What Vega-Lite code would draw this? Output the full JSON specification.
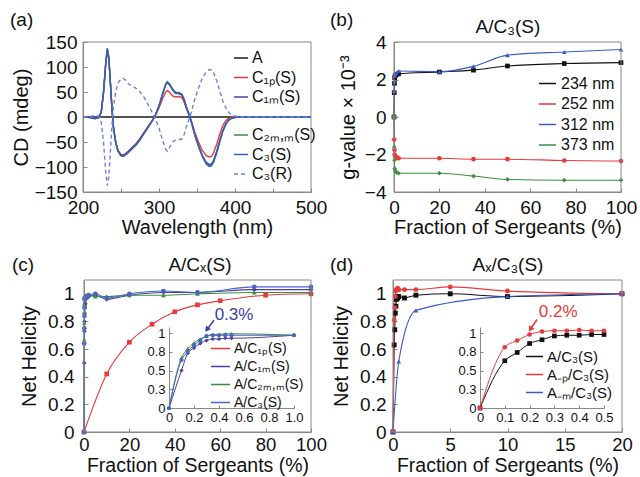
{
"$schema":"https://vega.github.io/schema/vega-lite/v6.json",
"width":640,"height":477,"autosize":{"type":"none"},"padding":0,"background":"white",
"config":{
 "font":"Liberation Sans",
 "view":{"stroke":null},
 "axis":{"grid":false,"domainColor":"#888","tickColor":"#888","labelColor":"#111","titleColor":"#111","labelFont":"Liberation Sans","titleFont":"Liberation Sans","labelFontSize":19,"titleFontSize":20,"titleFontWeight":"normal","tickSize":-4,"labelPadding":10,"labelFlush":false,"labelOverlap":false},
 "legend":{"orient":"none","symbolType":"stroke","symbolStrokeWidth":1.5,"labelFont":"Liberation Sans","padding":0,"labelOffset":3,"labelColor":"#111"},
 "text":{"font":"Liberation Sans","color":"#111"}
},
"datasets":{
"cd":[
{"wl":200,"A":0,"p":0,"m":0,"mm":0,"S":0,"R":0},
{"wl":210,"A":0,"p":-1,"m":-1,"mm":-1,"S":-1,"R":1},
{"wl":215,"A":0,"p":-3,"m":-3,"mm":-3,"S":-3,"R":3},
{"wl":220,"A":0,"p":-2,"m":-2,"mm":-2,"S":-2,"R":2},
{"wl":224,"A":0,"p":9,"m":10,"mm":10,"S":10,"R":-10},
{"wl":227,"A":0,"p":48,"m":49,"mm":50,"S":50,"R":-50},
{"wl":230,"A":0,"p":106,"m":108,"mm":110,"S":110,"R":-110},
{"wl":232,"A":0,"p":132,"m":135,"mm":136,"S":138,"R":-137},
{"wl":234,"A":0,"p":116,"m":118,"mm":119,"S":120,"R":-120},
{"wl":236,"A":0,"p":68,"m":69,"mm":70,"S":70,"R":-70},
{"wl":238,"A":0,"p":18,"m":19,"mm":20,"S":20,"R":-20},
{"wl":240,"A":0,"p":-20,"m":-20,"mm":-20,"S":-20,"R":20},
{"wl":243,"A":0,"p":-50,"m":-50,"mm":-51,"S":-50,"R":50},
{"wl":246,"A":0,"p":-67,"m":-68,"mm":-69,"S":-68,"R":68},
{"wl":250,"A":0,"p":-75,"m":-76,"mm":-78,"S":-77,"R":76},
{"wl":253,"A":0,"p":-76,"m":-77,"mm":-79,"S":-78,"R":77},
{"wl":256,"A":0,"p":-73,"m":-74,"mm":-76,"S":-75,"R":74},
{"wl":260,"A":0,"p":-68,"m":-69,"mm":-71,"S":-70,"R":66},
{"wl":265,"A":0,"p":-60,"m":-61,"mm":-63,"S":-62,"R":62},
{"wl":270,"A":0,"p":-53,"m":-54,"mm":-56,"S":-55,"R":57},
{"wl":275,"A":0,"p":-43,"m":-44,"mm":-46,"S":-45,"R":50},
{"wl":280,"A":0,"p":-32,"m":-32,"mm":-34,"S":-33,"R":40},
{"wl":285,"A":0,"p":-21,"m":-21,"mm":-22,"S":-22,"R":27},
{"wl":290,"A":0,"p":-10,"m":-10,"mm":-10,"S":-10,"R":12},
{"wl":295,"A":0,"p":2,"m":3,"mm":3,"S":3,"R":-3},
{"wl":300,"A":0,"p":18,"m":22,"mm":22,"S":22,"R":-22},
{"wl":305,"A":0,"p":38,"m":47,"mm":48,"S":48,"R":-48},
{"wl":309,"A":0,"p":50,"m":65,"mm":67,"S":66,"R":-65},
{"wl":311,"A":0,"p":53,"m":69,"mm":71,"S":70,"R":-68},
{"wl":314,"A":0,"p":49,"m":64,"mm":66,"S":65,"R":-60},
{"wl":318,"A":0,"p":42,"m":54,"mm":56,"S":55,"R":-50},
{"wl":322,"A":0,"p":40,"m":47,"mm":49,"S":48,"R":-46},
{"wl":326,"A":0,"p":41,"m":47,"mm":49,"S":48,"R":-45},
{"wl":330,"A":0,"p":39,"m":44,"mm":46,"S":45,"R":-44},
{"wl":333,"A":0,"p":30,"m":34,"mm":36,"S":35,"R":-35},
{"wl":336,"A":0,"p":17,"m":19,"mm":21,"S":20,"R":-20},
{"wl":340,"A":0,"p":2,"m":3,"mm":3,"S":3,"R":-3},
{"wl":343,"A":0,"p":-10,"m":-12,"mm":-12,"S":-12,"R":12},
{"wl":347,"A":0,"p":-30,"m":-34,"mm":-36,"S":-35,"R":35},
{"wl":352,"A":0,"p":-50,"m":-57,"mm":-59,"S":-58,"R":58},
{"wl":357,"A":0,"p":-67,"m":-77,"mm":-79,"S":-78,"R":78},
{"wl":362,"A":0,"p":-77,"m":-90,"mm":-94,"S":-92,"R":90},
{"wl":366,"A":0,"p":-80,"m":-95,"mm":-99,"S":-97,"R":95},
{"wl":369,"A":0,"p":-79,"m":-94,"mm":-98,"S":-96,"R":94},
{"wl":372,"A":0,"p":-71,"m":-86,"mm":-90,"S":-88,"R":88},
{"wl":376,"A":0,"p":-54,"m":-68,"mm":-72,"S":-70,"R":72},
{"wl":380,"A":0,"p":-34,"m":-47,"mm":-50,"S":-48,"R":52},
{"wl":384,"A":0,"p":-17,"m":-27,"mm":-29,"S":-28,"R":32},
{"wl":388,"A":0,"p":-7,"m":-13,"mm":-15,"S":-14,"R":18},
{"wl":392,"A":0,"p":-2,"m":-5,"mm":-6,"S":-6,"R":9},
{"wl":396,"A":0,"p":0,"m":-2,"mm":-2,"S":-2,"R":4},
{"wl":400,"A":0,"p":0,"m":-1,"mm":-1,"S":-1,"R":2},
{"wl":405,"A":0,"p":0,"m":0,"mm":0,"S":0,"R":0},
{"wl":410,"A":0,"p":0,"m":0,"mm":0,"S":0,"R":0},
{"wl":500,"A":0,"p":0,"m":0,"mm":0,"S":0,"R":0}
],
"gv":[
{"f":0,"g":0,"s":"234 nm"},{"f":0.1,"g":1.3,"s":"234 nm"},{"f":0.2,"g":1.8,"s":"234 nm"},{"f":0.3,"g":2.1,"s":"234 nm"},{"f":0.5,"g":2.2,"s":"234 nm"},{"f":1,"g":2.25,"s":"234 nm"},{"f":2,"g":2.3,"s":"234 nm"},{"f":20,"g":2.4,"s":"234 nm"},{"f":35,"g":2.5,"s":"234 nm"},{"f":50,"g":2.72,"s":"234 nm"},{"f":75,"g":2.85,"s":"234 nm"},{"f":100,"g":2.9,"s":"234 nm"},
{"f":0,"g":0,"s":"252 nm"},{"f":0.1,"g":-1.2,"s":"252 nm"},{"f":0.2,"g":-1.75,"s":"252 nm"},{"f":0.3,"g":-2.0,"s":"252 nm"},{"f":0.5,"g":-2.1,"s":"252 nm"},{"f":1,"g":-2.15,"s":"252 nm"},{"f":2,"g":-2.2,"s":"252 nm"},{"f":20,"g":-2.2,"s":"252 nm"},{"f":35,"g":-2.25,"s":"252 nm"},{"f":50,"g":-2.25,"s":"252 nm"},{"f":75,"g":-2.32,"s":"252 nm"},{"f":100,"g":-2.35,"s":"252 nm"},
{"f":0,"g":0,"s":"312 nm"},{"f":0.1,"g":1.4,"s":"312 nm"},{"f":0.2,"g":1.9,"s":"312 nm"},{"f":0.3,"g":2.2,"s":"312 nm"},{"f":0.5,"g":2.3,"s":"312 nm"},{"f":1,"g":2.35,"s":"312 nm"},{"f":2,"g":2.45,"s":"312 nm"},{"f":20,"g":2.42,"s":"312 nm"},{"f":35,"g":2.7,"s":"312 nm"},{"f":50,"g":3.3,"s":"312 nm"},{"f":75,"g":3.47,"s":"312 nm"},{"f":100,"g":3.6,"s":"312 nm"},
{"f":0,"g":0,"s":"373 nm"},{"f":0.1,"g":-1.6,"s":"373 nm"},{"f":0.2,"g":-2.3,"s":"373 nm"},{"f":0.3,"g":-2.75,"s":"373 nm"},{"f":0.5,"g":-2.85,"s":"373 nm"},{"f":1,"g":-2.95,"s":"373 nm"},{"f":2,"g":-3.0,"s":"373 nm"},{"f":20,"g":-3.0,"s":"373 nm"},{"f":35,"g":-3.15,"s":"373 nm"},{"f":50,"g":-3.33,"s":"373 nm"},{"f":75,"g":-3.37,"s":"373 nm"},{"f":100,"g":-3.37,"s":"373 nm"}
],
"nh":[
{"f":0,"h":0,"s":"p"},{"f":10,"h":0.42,"s":"p"},{"f":20,"h":0.65,"s":"p"},{"f":30,"h":0.78,"s":"p"},{"f":40,"h":0.87,"s":"p"},{"f":50,"h":0.92,"s":"p"},{"f":60,"h":0.95,"s":"p"},{"f":80,"h":0.99,"s":"p"},{"f":100,"h":1.0,"s":"p"},
{"f":0,"h":0,"s":"m"},{"f":0.1,"h":0.5,"s":"m"},{"f":0.15,"h":0.73,"s":"m"},{"f":0.2,"h":0.8,"s":"m"},{"f":0.25,"h":0.86,"s":"m"},{"f":0.3,"h":0.9,"s":"m"},{"f":0.35,"h":0.92,"s":"m"},{"f":0.4,"h":0.92,"s":"m"},{"f":0.45,"h":0.93,"s":"m"},{"f":0.5,"h":0.93,"s":"m"},{"f":1,"h":0.97,"s":"m"},{"f":2,"h":0.98,"s":"m"},{"f":5,"h":0.99,"s":"m"},{"f":10,"h":0.96,"s":"m"},{"f":20,"h":0.99,"s":"m"},{"f":35,"h":1.01,"s":"m"},{"f":50,"h":1.01,"s":"m"},{"f":75,"h":1.03,"s":"m"},{"f":100,"h":1.03,"s":"m"},
{"f":0,"h":0,"s":"mm"},{"f":0.1,"h":0.67,"s":"mm"},{"f":0.15,"h":0.79,"s":"mm"},{"f":0.2,"h":0.87,"s":"mm"},{"f":0.25,"h":0.92,"s":"mm"},{"f":0.3,"h":0.96,"s":"mm"},{"f":0.35,"h":0.98,"s":"mm"},{"f":0.4,"h":0.98,"s":"mm"},{"f":0.45,"h":0.99,"s":"mm"},{"f":0.5,"h":0.99,"s":"mm"},{"f":1,"h":0.97,"s":"mm"},{"f":2,"h":0.99,"s":"mm"},{"f":5,"h":0.98,"s":"mm"},{"f":10,"h":0.98,"s":"mm"},{"f":20,"h":0.99,"s":"mm"},{"f":35,"h":0.99,"s":"mm"},{"f":50,"h":1.0,"s":"mm"},{"f":75,"h":1.01,"s":"mm"},{"f":100,"h":1.01,"s":"mm"},
{"f":0,"h":0,"s":"S"},{"f":0.1,"h":0.64,"s":"S"},{"f":0.15,"h":0.75,"s":"S"},{"f":0.2,"h":0.84,"s":"S"},{"f":0.25,"h":0.9,"s":"S"},{"f":0.3,"h":0.96,"s":"S"},{"f":0.35,"h":0.97,"s":"S"},{"f":0.4,"h":0.97,"s":"S"},{"f":0.45,"h":0.97,"s":"S"},{"f":0.5,"h":0.97,"s":"S"},{"f":1,"h":0.97,"s":"S"},{"f":2,"h":0.99,"s":"S"},{"f":5,"h":1.0,"s":"S"},{"f":10,"h":0.97,"s":"S"},{"f":20,"h":1.0,"s":"S"},{"f":35,"h":1.02,"s":"S"},{"f":50,"h":1.01,"s":"S"},{"f":75,"h":1.05,"s":"S"},{"f":100,"h":1.05,"s":"S"}
],
"nd":[
{"f":0,"h":0,"s":"A"},{"f":0.1,"h":0.63,"s":"A"},{"f":0.15,"h":0.74,"s":"A"},{"f":0.2,"h":0.86,"s":"A"},{"f":0.25,"h":0.91,"s":"A"},{"f":0.3,"h":0.96,"s":"A"},{"f":0.35,"h":0.97,"s":"A"},{"f":0.4,"h":0.97,"s":"A"},{"f":0.45,"h":0.98,"s":"A"},{"f":0.5,"h":0.98,"s":"A"},{"f":1,"h":0.97,"s":"A"},{"f":2,"h":0.99,"s":"A"},{"f":5,"h":1.0,"s":"A"},{"f":10,"h":0.98,"s":"A"},{"f":20,"h":1.0,"s":"A"},
{"f":0,"h":0,"s":"p"},{"f":0.1,"h":0.81,"s":"p"},{"f":0.15,"h":0.9,"s":"p"},{"f":0.2,"h":0.98,"s":"p"},{"f":0.25,"h":1.02,"s":"p"},{"f":0.3,"h":1.03,"s":"p"},{"f":0.35,"h":1.03,"s":"p"},{"f":0.4,"h":1.04,"s":"p"},{"f":0.45,"h":1.03,"s":"p"},{"f":0.5,"h":1.03,"s":"p"},{"f":1,"h":1.03,"s":"p"},{"f":2,"h":1.03,"s":"p"},{"f":5,"h":1.05,"s":"p"},{"f":10,"h":1.02,"s":"p"},{"f":20,"h":1.0,"s":"p"},
{"f":0,"h":0,"s":"m"},{"f":0.5,"h":0.51,"s":"m"},{"f":2,"h":0.88,"s":"m"},{"f":10,"h":0.98,"s":"m"},{"f":20,"h":1.0,"s":"m"}
]
},
"layer":[
{"layer":[
 {"data":{"name":"cd"},"transform":[{"fold":["A","p","m"],"as":["s","v"]}],
  "mark":{"type":"line","strokeWidth":1.4},
  "encoding":{
   "x":{"field":"wl","type":"quantitative","scale":{"domain":[200,500],"range":[83,311],"nice":false,"zero":false},"axis":{"orient":"bottom","offset":-285,"values":[200,250,300,350,400,450,500],"labelExpr":"datum.value % 100 === 0 ? datum.label : ''","title":"Wavelength (nm)","titlePadding":0}},
   "y":{"field":"v","type":"quantitative","scale":{"domain":[-150,150],"range":[192,42],"nice":false,"zero":false},"axis":{"orient":"left","offset":-83,"values":[-150,-100,-50,0,50,100,150],"title":"CD (mdeg)","titlePadding":3,"labelPadding":10}},
   "color":{"field":"s","type":"nominal","scale":{"domain":["A","p","m"],"range":["#1a1a1a","#e8393b","#4b3d9e"]},"legend":{"title":null,"legendX":233,"legendY":50,"labelFontSize":16,"symbolSize":196,"rowPadding":3.5,"labelExpr":"datum.label == 'p' ? 'C₁ₚ(S)' : datum.label == 'm' ? 'C₁ₘ(S)' : 'A'"}}
  }},
 {"data":{"name":"cd"},"transform":[{"fold":["mm","S","R"],"as":["s","v"]}],
  "mark":{"type":"line","strokeWidth":1.4},
  "encoding":{
   "x":{"field":"wl","type":"quantitative"},
   "y":{"field":"v","type":"quantitative"},
   "color":{"field":"s","type":"nominal","scale":{"domain":["mm","S","R"],"range":["#3a8f3e","#3a5bc7","#6d82d6"]},"legend":{"title":null,"legendX":233,"legendY":127,"labelFontSize":16,"symbolSize":196,"rowPadding":3.5,"labelExpr":"datum.label == 'mm' ? 'C₂ₘ,ₘ(S)' : datum.label == 'S' ? 'C₃(S)' : 'C₃(R)'"}},
   "strokeDash":{"field":"s","type":"nominal","scale":{"domain":["mm","S","R"],"range":[[1,0],[1,0],[4,3]]},"legend":{"title":null,"legendX":233,"legendY":127,"labelFontSize":16,"symbolSize":196,"rowPadding":3.5,"labelExpr":"datum.label == 'mm' ? 'C₂ₘ,ₘ(S)' : datum.label == 'S' ? 'C₃(S)' : 'C₃(R)'"}}
  }},
 {"data":{"values":[{}]},"mark":{"type":"rect","filled":false,"color":"#888","strokeWidth":1},
  "encoding":{"x":{"datum":200,"type":"quantitative"},"x2":{"datum":500},"y":{"datum":-150,"type":"quantitative"},"y2":{"datum":150}}},
 {"data":{"values":[{}]},"mark":{"type":"text","text":"(a)","align":"left","baseline":"middle","fontSize":19},
  "encoding":{"x":{"datum":104,"type":"quantitative"},"y":{"datum":194,"type":"quantitative"}}}
 ],
 "resolve":{"scale":{"color":"independent","strokeDash":"independent"},"legend":{"color":"independent","strokeDash":"independent"}}
},
{"layer":[
 {"data":{"name":"gv"},
  "mark":{"type":"line","strokeWidth":1.1,"interpolate":"monotone"},
  "encoding":{
   "x":{"field":"f","type":"quantitative","scale":{"domain":[0,100],"range":[394,621],"nice":false,"zero":false},"axis":{"orient":"bottom","offset":-285,"values":[0,20,40,60,80,100],"title":"Fraction of Sergeants (%)","titlePadding":0}},
   "y":{"field":"g","type":"quantitative","scale":{"domain":[-4,4],"range":[192,42],"nice":false,"zero":false},"axis":{"orient":"left","offset":-394,"values":[-4,-2,0,2,4],"format":"~g","title":"g-value × 10⁻³","titlePadding":6,"labelPadding":12}},
   "color":{"field":"s","type":"nominal","scale":{"domain":["234 nm","252 nm","312 nm","373 nm"],"range":["#111111","#e8393b","#3a5bc7","#3a8f3e"]},"legend":{"title":null,"legendX":538,"legendY":74,"labelFontSize":16,"symbolSize":289,"rowPadding":2.5,"labelOffset":4}}
  }},
 {"data":{"name":"gv"},"transform":[{"filter":"datum.s == '234 nm'"}],"mark":{"type":"point","shape":"square","filled":true,"size":22,"color":"#111111","opacity":1},
  "encoding":{"x":{"field":"f","type":"quantitative"},"y":{"field":"g","type":"quantitative"}}},
 {"data":{"name":"gv"},"transform":[{"filter":"datum.s == '252 nm'"}],"mark":{"type":"point","shape":"circle","filled":true,"size":22,"color":"#e8393b","opacity":1},
  "encoding":{"x":{"field":"f","type":"quantitative"},"y":{"field":"g","type":"quantitative"}}},
 {"data":{"name":"gv"},"transform":[{"filter":"datum.s == '312 nm'"}],"mark":{"type":"point","shape":"triangle-up","filled":true,"size":22,"color":"#3a5bc7","opacity":1},
  "encoding":{"x":{"field":"f","type":"quantitative"},"y":{"field":"g","type":"quantitative"}}},
 {"data":{"name":"gv"},"transform":[{"filter":"datum.s == '373 nm'"}],"mark":{"type":"point","shape":"diamond","filled":true,"size":22,"color":"#3a8f3e","opacity":1},
  "encoding":{"x":{"field":"f","type":"quantitative"},"y":{"field":"g","type":"quantitative"}}},
 {"data":{"values":[{}]},"mark":{"type":"rect","filled":false,"color":"#888","strokeWidth":1},
  "encoding":{"x":{"datum":0,"type":"quantitative"},"x2":{"datum":100},"y":{"datum":-4,"type":"quantitative"},"y2":{"datum":4}}},
 {"data":{"values":[{}]},"mark":{"type":"text","text":"(b)","align":"left","baseline":"middle","fontSize":19},
  "encoding":{"x":{"datum":-28.2,"type":"quantitative"},"y":{"datum":5.17,"type":"quantitative"}}},
 {"data":{"values":[{}]},"mark":{"type":"text","text":"A/C₃(S)","align":"center","baseline":"middle","fontSize":19},
  "encoding":{"x":{"datum":50.2,"type":"quantitative"},"y":{"datum":4.8,"type":"quantitative"}}}
]},
{"layer":[
 {"data":{"name":"nh"},
  "mark":{"type":"line","strokeWidth":1.1,"interpolate":"monotone"},
  "encoding":{
   "x":{"field":"f","type":"quantitative","scale":{"domain":[0,100],"range":[84,311],"nice":false,"zero":false},"axis":{"orient":"bottom","offset":-45,"values":[0,20,40,60,80,100],"title":"Fraction of Sergeants (%)","titlePadding":2,"titleFontSize":19.5,"labelFontSize":18.5,"labelPadding":7.5}},
   "y":{"field":"h","type":"quantitative","scale":{"domain":[0,1.1],"range":[432,280],"nice":false,"zero":false},"axis":{"orient":"left","offset":-84,"values":[0,0.2,0.4,0.6,0.8,1],"format":"~g","title":"Net Helicity","titlePadding":8,"labelPadding":14}},
   "color":{"field":"s","type":"nominal","scale":{"domain":["p","m","mm","S"],"range":["#e8393b","#4b3d9e","#3a8f3e","#4a63c4"]},"legend":null}
  }},
 {"data":{"name":"nh"},"transform":[{"filter":"datum.s == 'p'"}],"mark":{"type":"point","shape":"square","filled":true,"size":22,"color":"#e8393b","opacity":1},
  "encoding":{"x":{"field":"f","type":"quantitative"},"y":{"field":"h","type":"quantitative"}}},
 {"data":{"name":"nh"},"transform":[{"filter":"datum.s == 'm'"}],"mark":{"type":"point","shape":"diamond","filled":true,"size":22,"color":"#4b3d9e","opacity":1},
  "encoding":{"x":{"field":"f","type":"quantitative"},"y":{"field":"h","type":"quantitative"}}},
 {"data":{"name":"nh"},"transform":[{"filter":"datum.s == 'mm'"}],"mark":{"type":"point","shape":"triangle-up","filled":true,"size":22,"color":"#3a8f3e","opacity":1},
  "encoding":{"x":{"field":"f","type":"quantitative"},"y":{"field":"h","type":"quantitative"}}},
 {"data":{"name":"nh"},"transform":[{"filter":"datum.s == 'S'"}],"mark":{"type":"point","shape":"circle","filled":true,"size":22,"color":"#4a63c4","opacity":1},
  "encoding":{"x":{"field":"f","type":"quantitative"},"y":{"field":"h","type":"quantitative"}}},
 {"data":{"values":[{}]},"mark":{"type":"rect","filled":false,"color":"#888","strokeWidth":1},
  "encoding":{"x":{"datum":0,"type":"quantitative"},"x2":{"datum":100},"y":{"datum":0,"type":"quantitative"},"y2":{"datum":1.1}}},
 {"data":{"values":[{}]},"mark":{"type":"text","text":"(c)","align":"left","baseline":"middle","fontSize":19},
  "encoding":{"x":{"datum":-31.7,"type":"quantitative"},"y":{"datum":1.208,"type":"quantitative"}}},
 {"data":{"values":[{}]},"mark":{"type":"text","text":"A/Cₓ(S)","align":"center","baseline":"middle","fontSize":19},
  "encoding":{"x":{"datum":51.1,"type":"quantitative"},"y":{"datum":1.208,"type":"quantitative"}}}
]},
{"layer":[
 {"data":{"name":"nh"},"transform":[{"filter":"datum.f <= 1 && datum.s != 'p'"}],
  "mark":{"type":"line","strokeWidth":1,"interpolate":"monotone"},
  "encoding":{
   "x":{"field":"f","type":"quantitative","scale":{"domain":[0,1],"range":[169,294],"nice":false,"zero":false},"axis":{"orient":"bottom","offset":-69,"values":[0,0.2,0.4,0.6,0.8,1],"labelExpr":"datum.value == 0 ? '0' : format(datum.value, '.1f')","title":null,"labelFontSize":13,"tickSize":-3,"labelPadding":6}},
   "y":{"field":"h","type":"quantitative","scale":{"domain":[0,1.08],"range":[408,327],"nice":false,"zero":false},"axis":{"orient":"left","offset":-169,"values":[0,0.25,0.5,0.75,1],"format":"~g","title":null,"labelFontSize":13,"tickSize":-3,"labelPadding":7}},
   "color":{"field":"s","type":"nominal","scale":{"domain":["p","m","mm","S"],"range":["#e8393b","#4b3d9e","#3a8f3e","#4a63c4"]},"legend":{"title":null,"legendX":210,"legendY":338,"labelFontSize":14,"symbolSize":361,"rowPadding":-3.4,"labelExpr":"datum.label == 'p' ? 'A/C₁ₚ(S)' : datum.label == 'm' ? 'A/C₁ₘ(S)' : datum.label == 'mm' ? 'A/C₂ₘ,ₘ(S)' : 'A/C₃(S)'"}}
  }},
 {"data":{"name":"nh"},"transform":[{"filter":"datum.f <= 1 && datum.s == 'm'"}],"mark":{"type":"point","shape":"diamond","filled":true,"size":18,"color":"#4b3d9e","opacity":1},
  "encoding":{"x":{"field":"f","type":"quantitative"},"y":{"field":"h","type":"quantitative"}}},
 {"data":{"name":"nh"},"transform":[{"filter":"datum.f <= 1 && datum.s == 'mm'"}],"mark":{"type":"point","shape":"triangle-up","filled":true,"size":18,"color":"#3a8f3e","opacity":1},
  "encoding":{"x":{"field":"f","type":"quantitative"},"y":{"field":"h","type":"quantitative"}}},
 {"data":{"name":"nh"},"transform":[{"filter":"datum.f <= 1 && datum.s == 'S'"}],"mark":{"type":"point","shape":"circle","filled":true,"size":18,"color":"#4a63c4","opacity":1},
  "encoding":{"x":{"field":"f","type":"quantitative"},"y":{"field":"h","type":"quantitative"}}},
 {"data":{"values":[{}]},"mark":{"type":"text","text":"0.3%","align":"center","baseline":"middle","fontSize":17,"color":"#3a3fa0"},
  "encoding":{"x":{"datum":0.52,"type":"quantitative"},"y":{"datum":1.24,"type":"quantitative"}}},
 {"data":{"values":[{}]},"mark":{"type":"rule","color":"#3a3fa0","strokeWidth":1.5},
  "encoding":{"x":{"datum":0.36,"type":"quantitative"},"y":{"datum":1.17,"type":"quantitative"},"x2":{"datum":0.31},"y2":{"datum":1.06}}},
 {"data":{"values":[{}]},"mark":{"type":"point","shape":"triangle-down","filled":true,"size":40,"angle":37,"color":"#3a3fa0","opacity":1},
  "encoding":{"x":{"datum":0.303,"type":"quantitative"},"y":{"datum":1.045,"type":"quantitative"}}}
]},
{"layer":[
 {"data":{"name":"nd"},
  "mark":{"type":"line","strokeWidth":1.1,"interpolate":"monotone"},
  "encoding":{
   "x":{"field":"f","type":"quantitative","scale":{"domain":[0,20],"range":[393,622],"nice":false,"zero":false},"axis":{"orient":"bottom","offset":-45,"values":[0,5,10,15,20],"title":"Fraction of Sergeants (%)","titlePadding":2,"titleFontSize":19.5,"labelFontSize":18.5,"labelPadding":7.5}},
   "y":{"field":"h","type":"quantitative","scale":{"domain":[0,1.1],"range":[432,280],"nice":false,"zero":false},"axis":{"orient":"left","offset":-393,"values":[0,0.2,0.4,0.6,0.8,1],"format":"~g","title":"Net Helicity","titlePadding":8,"labelPadding":11}},
   "color":{"field":"s","type":"nominal","scale":{"domain":["A","p","m"],"range":["#111111","#e8393b","#3a5bc7"]},"legend":null}
  }},
 {"data":{"name":"nd"},"transform":[{"filter":"datum.s == 'A'"}],"mark":{"type":"point","shape":"square","filled":true,"size":24,"color":"#111111","opacity":1},
  "encoding":{"x":{"field":"f","type":"quantitative"},"y":{"field":"h","type":"quantitative"}}},
 {"data":{"name":"nd"},"transform":[{"filter":"datum.s == 'p'"}],"mark":{"type":"point","shape":"circle","filled":true,"size":24,"color":"#e8393b","opacity":1},
  "encoding":{"x":{"field":"f","type":"quantitative"},"y":{"field":"h","type":"quantitative"}}},
 {"data":{"name":"nd"},"transform":[{"filter":"datum.s == 'm'"}],"mark":{"type":"point","shape":"triangle-up","filled":true,"size":22,"color":"#3a5bc7","opacity":1},
  "encoding":{"x":{"field":"f","type":"quantitative"},"y":{"field":"h","type":"quantitative"}}},
 {"data":{"values":[{}]},"mark":{"type":"rect","filled":false,"color":"#888","strokeWidth":1},
  "encoding":{"x":{"datum":0,"type":"quantitative"},"x2":{"datum":20},"y":{"datum":0,"type":"quantitative"},"y2":{"datum":1.1}}},
 {"data":{"values":[{}]},"mark":{"type":"text","text":"(d)","align":"left","baseline":"middle","fontSize":19},
  "encoding":{"x":{"datum":-5.5,"type":"quantitative"},"y":{"datum":1.208,"type":"quantitative"}}},
 {"data":{"values":[{}]},"mark":{"type":"text","text":"Aₓ/C₃(S)","align":"center","baseline":"middle","fontSize":19},
  "encoding":{"x":{"datum":10.04,"type":"quantitative"},"y":{"datum":1.208,"type":"quantitative"}}}
]},
{"layer":[
 {"data":{"name":"nd"},"transform":[{"filter":"datum.f <= 0.5 && datum.s != 'm'"}],
  "mark":{"type":"line","strokeWidth":1,"interpolate":"monotone"},
  "encoding":{
   "x":{"field":"f","type":"quantitative","scale":{"domain":[0,0.5],"range":[480,604],"nice":false,"zero":false},"axis":{"orient":"bottom","offset":-69,"values":[0,0.1,0.2,0.3,0.4,0.5],"format":"~g","title":null,"labelFontSize":13,"tickSize":-3,"labelPadding":6}},
   "y":{"field":"h","type":"quantitative","scale":{"domain":[0,1.08],"range":[408,327],"nice":false,"zero":false},"axis":{"orient":"left","offset":-480,"values":[0,0.25,0.5,0.75,1],"format":"~g","title":null,"labelFontSize":13,"tickSize":-3,"labelPadding":7}},
   "color":{"field":"s","type":"nominal","scale":{"domain":["A","p","m"],"range":["#111111","#e8393b","#3a5bc7"]},"legend":{"title":null,"legendX":525,"legendY":347,"labelFontSize":15,"symbolSize":289,"rowPadding":0,"labelExpr":"datum.label == 'A' ? 'A/C₃(S)' : datum.label == 'p' ? 'A₋ₚ/C₃(S)' : 'A₋ₘ/C₃(S)'"}}
  }},
 {"data":{"name":"nd"},"transform":[{"filter":"datum.f <= 0.5 && datum.s == 'A'"}],"mark":{"type":"point","shape":"square","filled":true,"size":22,"color":"#111111","opacity":1},
  "encoding":{"x":{"field":"f","type":"quantitative"},"y":{"field":"h","type":"quantitative"}}},
 {"data":{"name":"nd"},"transform":[{"filter":"datum.f <= 0.5 && datum.s == 'p'"}],"mark":{"type":"point","shape":"circle","filled":true,"size":22,"color":"#e8393b","opacity":1},
  "encoding":{"x":{"field":"f","type":"quantitative"},"y":{"field":"h","type":"quantitative"}}},
 {"data":{"values":[{}]},"mark":{"type":"text","text":"0.2%","align":"center","baseline":"middle","fontSize":17,"color":"#e8393b"},
  "encoding":{"x":{"datum":0.315,"type":"quantitative"},"y":{"datum":1.28,"type":"quantitative"}}},
 {"data":{"values":[{}]},"mark":{"type":"rule","color":"#e8393b","strokeWidth":1.5},
  "encoding":{"x":{"datum":0.23,"type":"quantitative"},"y":{"datum":1.18,"type":"quantitative"},"x2":{"datum":0.207},"y2":{"datum":1.07}}},
 {"data":{"values":[{}]},"mark":{"type":"point","shape":"triangle-down","filled":true,"size":40,"angle":34,"color":"#e8393b","opacity":1},
  "encoding":{"x":{"datum":0.203,"type":"quantitative"},"y":{"datum":1.05,"type":"quantitative"}}}
]}
],
"resolve":{"scale":{"x":"independent","y":"independent","color":"independent","strokeDash":"independent"},"axis":{"x":"independent","y":"independent"},"legend":{"color":"independent","strokeDash":"independent"}}
}
